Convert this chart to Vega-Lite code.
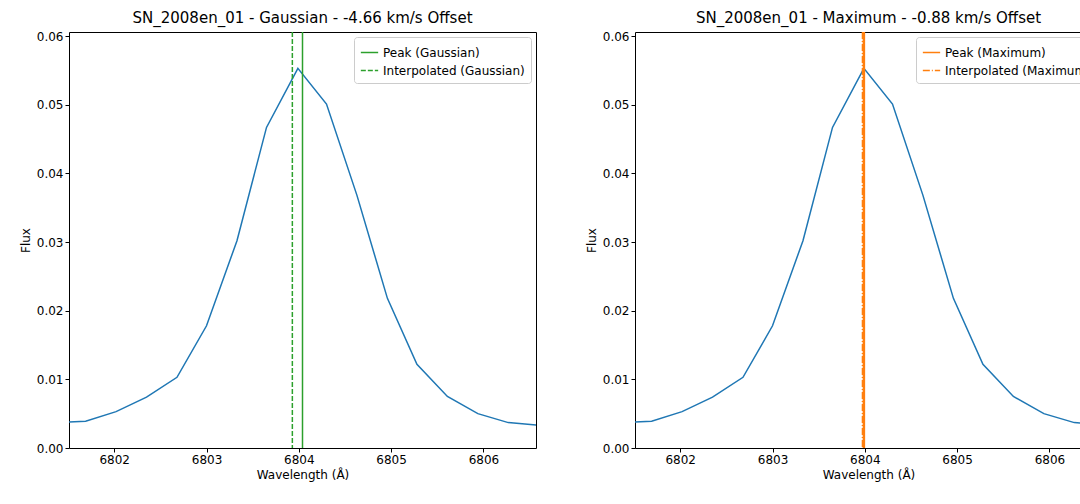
{
  "$schema": "https://vega.github.io/schema/vega-lite/v6.json",
  "background": "white",
  "padding": {"left": 18, "top": 10, "right": 10, "bottom": 5},
  "spacing": 47,
  "config": {
    "font": "DejaVu Sans",
    "view": {"stroke": "black", "strokeWidth": 1},
    "axis": {"grid": false, "domain": false, "tickColor": "black", "tickSize": 4, "labelColor": "black", "labelFontSize": 12, "titleFontSize": 12, "titleFontWeight": "normal", "titleColor": "black"},
    "title": {"fontSize": 15, "fontWeight": "normal", "color": "black"},
    "legend": {"orient": "top-right", "offset": 5, "title": null, "fillColor": "white", "strokeColor": "#cccccc", "padding": 6, "cornerRadius": 3, "labelFontSize": 12, "symbolType": "stroke", "symbolSize": 300, "symbolStrokeWidth": 1.5, "labelColor": "black"}
  },
  "datasets": {
    "spec": [
      {"w": 6801.36, "flux": 0.0037},
      {"w": 6801.69, "flux": 0.0039},
      {"w": 6802.02, "flux": 0.0053},
      {"w": 6802.35, "flux": 0.0074},
      {"w": 6802.68, "flux": 0.0103},
      {"w": 6803.00, "flux": 0.0178},
      {"w": 6803.33, "flux": 0.0302},
      {"w": 6803.65, "flux": 0.0467},
      {"w": 6803.99, "flux": 0.0553},
      {"w": 6804.30, "flux": 0.0501},
      {"w": 6804.63, "flux": 0.0368},
      {"w": 6804.96, "flux": 0.0218},
      {"w": 6805.28, "flux": 0.0122},
      {"w": 6805.61, "flux": 0.0075},
      {"w": 6805.94, "flux": 0.0050},
      {"w": 6806.27, "flux": 0.0037},
      {"w": 6806.60, "flux": 0.0033}
    ],
    "gauss": [
      {"w": 6804.04, "label": "Peak (Gaussian)"},
      {"w": 6803.93, "label": "Interpolated (Gaussian)"}
    ],
    "maxi": [
      {"w": 6803.99, "label": "Peak (Maximum)"},
      {"w": 6803.98, "label": "Interpolated (Maximum)"}
    ]
  },
  "resolve": {"scale": {"color": "independent", "strokeDash": "independent"}},
  "hconcat": [
    {
      "title": "SN_2008en_01 - Gaussian - -4.66 km/s Offset",
      "width": 467,
      "height": 416,
      "layer": [
        {
          "data": {"name": "spec"},
          "mark": {"type": "line", "color": "#1f77b4", "strokeWidth": 1.5, "clip": true},
          "encoding": {
            "x": {"field": "w", "type": "quantitative", "scale": {"domain": [6801.51, 6806.57], "nice": false, "zero": false}, "axis": {"values": [6802, 6803, 6804, 6805, 6806], "format": "d", "title": "Wavelength (Å)"}},
            "y": {"field": "flux", "type": "quantitative", "scale": {"domain": [0, 0.0606], "nice": false}, "axis": {"values": [0, 0.01, 0.02, 0.03, 0.04, 0.05, 0.06], "format": ".2f", "title": "Flux"}}
          }
        },
        {
          "data": {"name": "gauss"},
          "mark": {"type": "rule", "strokeWidth": 1.5},
          "encoding": {
            "x": {"field": "w", "type": "quantitative"},
            "color": {"field": "label", "type": "nominal", "scale": {"domain": ["Peak (Gaussian)", "Interpolated (Gaussian)"], "range": ["#2ca02c", "#2ca02c"]}},
            "strokeDash": {"field": "label", "type": "nominal", "scale": {"domain": ["Peak (Gaussian)", "Interpolated (Gaussian)"], "range": [[1, 0], [5, 2]]}}
          }
        }
      ]
    },
    {
      "title": "SN_2008en_01 - Maximum - -0.88 km/s Offset",
      "width": 467,
      "height": 416,
      "layer": [
        {
          "data": {"name": "spec"},
          "mark": {"type": "line", "color": "#1f77b4", "strokeWidth": 1.5, "clip": true},
          "encoding": {
            "x": {"field": "w", "type": "quantitative", "scale": {"domain": [6801.51, 6806.57], "nice": false, "zero": false}, "axis": {"values": [6802, 6803, 6804, 6805, 6806], "format": "d", "title": "Wavelength (Å)"}},
            "y": {"field": "flux", "type": "quantitative", "scale": {"domain": [0, 0.0606], "nice": false}, "axis": {"values": [0, 0.01, 0.02, 0.03, 0.04, 0.05, 0.06], "format": ".2f", "title": "Flux"}}
          }
        },
        {
          "data": {"name": "maxi"},
          "mark": {"type": "rule", "strokeWidth": 2.5},
          "encoding": {
            "x": {"field": "w", "type": "quantitative"},
            "color": {"field": "label", "type": "nominal", "scale": {"domain": ["Peak (Maximum)", "Interpolated (Maximum)"], "range": ["#ff7f0e", "#ff7f0e"]}},
            "strokeDash": {"field": "label", "type": "nominal", "scale": {"domain": ["Peak (Maximum)", "Interpolated (Maximum)"], "range": [[1, 0], [7, 2, 1, 2]]}}
          }
        }
      ]
    }
  ]
}
